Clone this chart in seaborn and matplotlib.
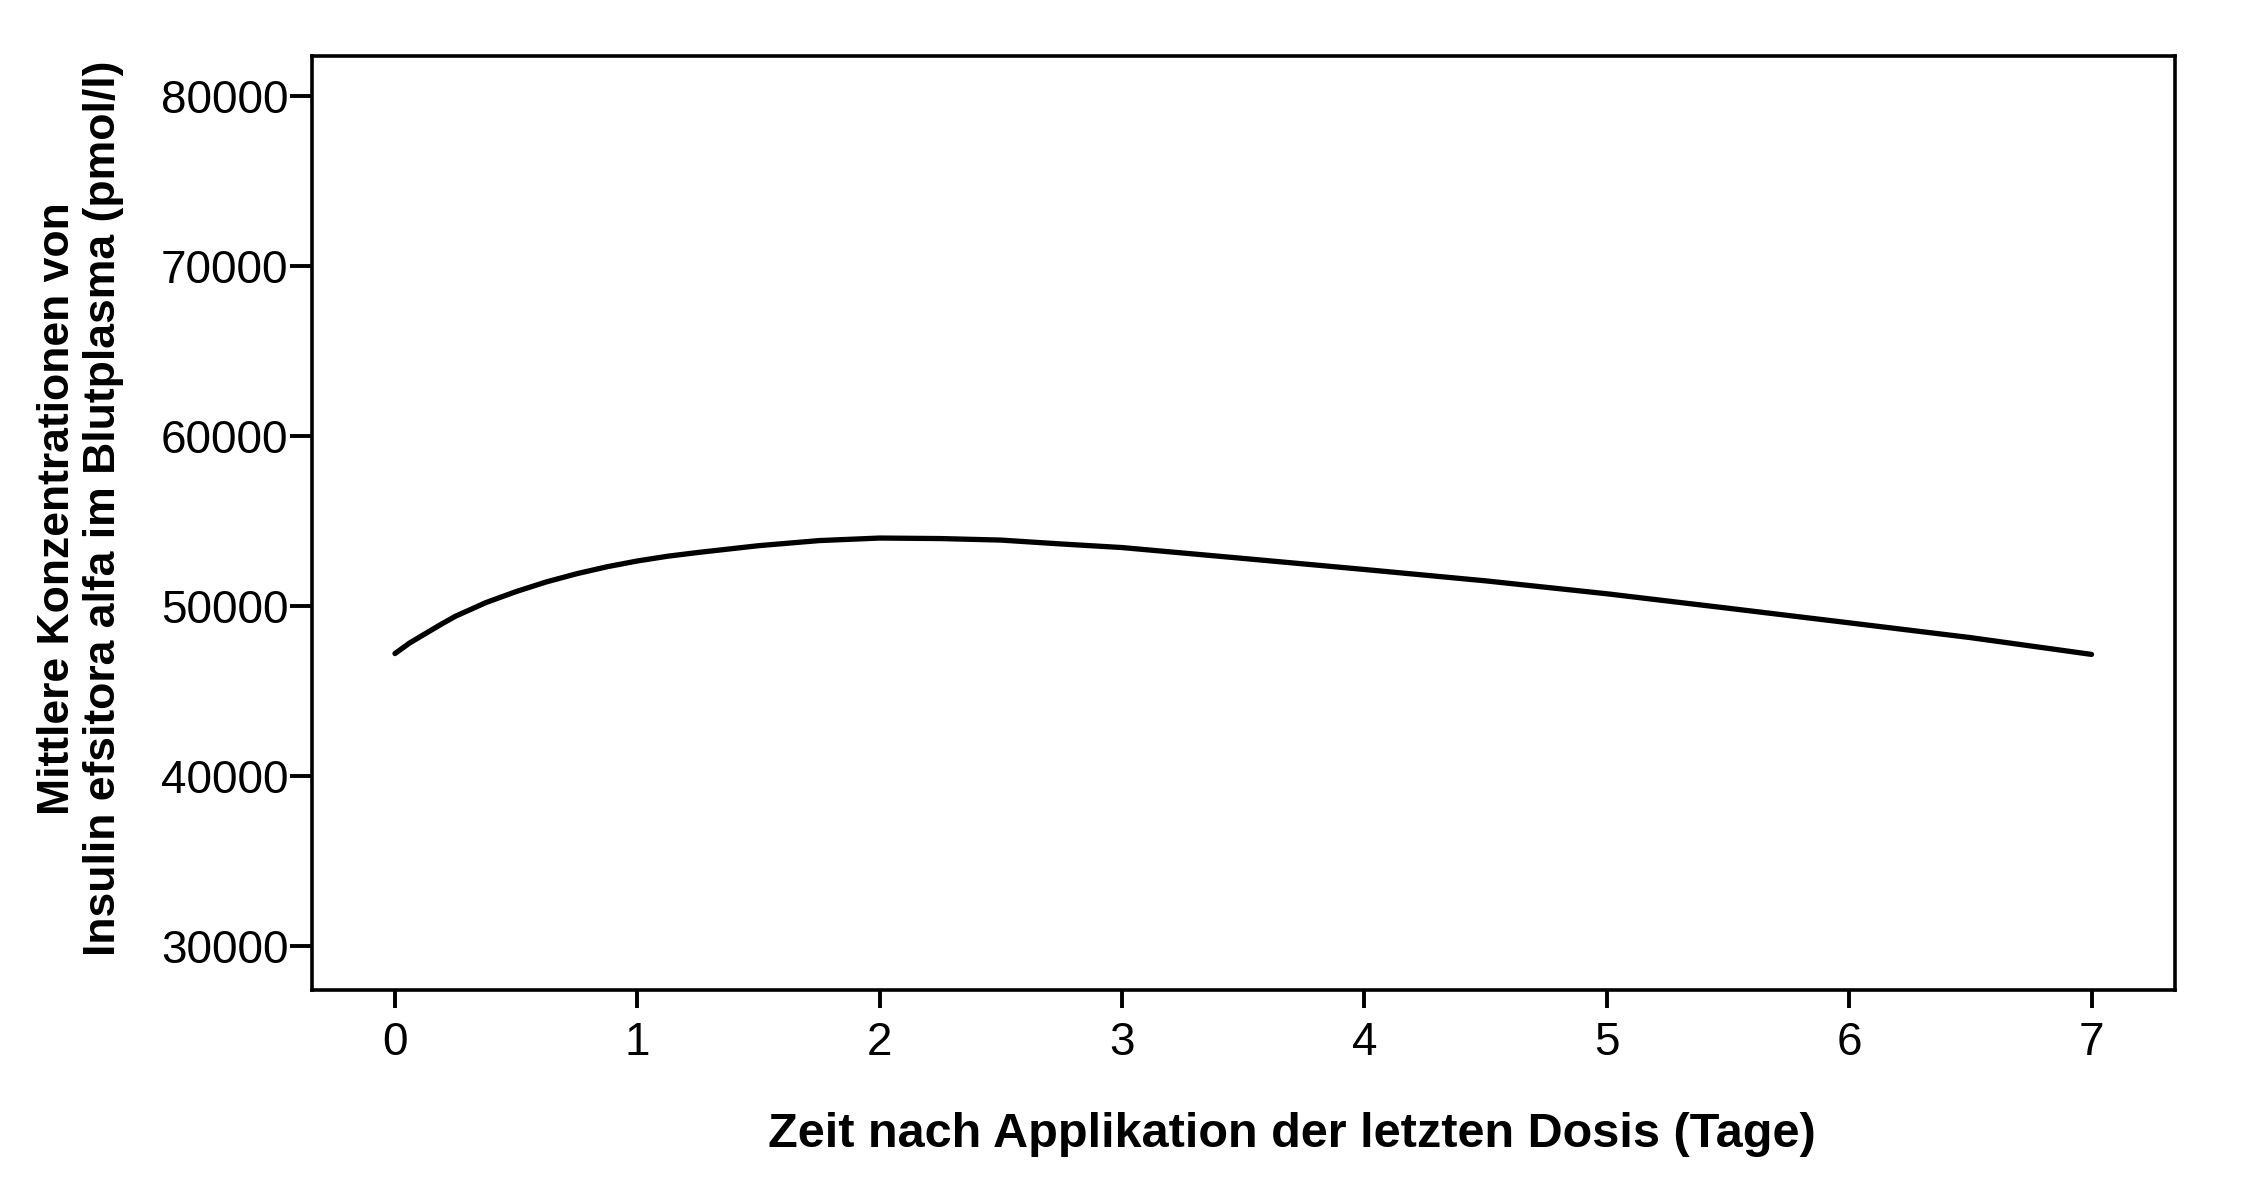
import numpy as np
import pandas as pd
import matplotlib
matplotlib.use("Agg")
import matplotlib.pyplot as plt
import seaborn as sns

# mean plasma concentration (pmol/l) over one dosing week
tage = [0.0, 0.06, 0.125, 0.19, 0.25, 0.375, 0.5, 0.625, 0.75, 0.875, 1.0,
        1.125, 1.25, 1.5, 1.75, 2.0, 2.25, 2.5, 2.75, 3.0, 3.5, 4.0, 4.5,
        5.0, 5.5, 6.0, 6.5, 7.0]
konz = [47200, 47820, 48370, 48920, 49400, 50200, 50850, 51420, 51900, 52310,
        52650, 52930, 53150, 53550, 53850, 54000, 53970, 53880, 53650, 53440,
        52800, 52150, 51480, 50720, 49870, 49010, 48140, 47150]

x_ticks = [0, 1, 2, 3, 4, 5, 6, 7]
y_ticks = [30000, 40000, 50000, 60000, 70000, 80000]

x_label = "Zeit nach Applikation der letzten Dosis (Tage)"
y_label = "Mittlere Konzentrationen von\nInsulin efsitora alfa im Blutplasma (pmol/l)"


def main():
    sns.set_style("ticks")
    plt.rcParams["font.family"] = ["Liberation Sans", "DejaVu Sans"]
    plt.rcParams["text.color"] = "black"
    plt.rcParams["axes.labelcolor"] = "black"

    df = pd.DataFrame({"Tage": tage, "Konz": konz})

    fig = plt.figure(figsize=(22.42, 11.92), dpi=100)
    ax = fig.add_axes([0.1392, 0.1695, 0.9703 - 0.1392, 0.9534 - 0.1695])

    sns.lineplot(data=df, x="Tage", y="Konz", color="black", linewidth=3.8,
                 solid_joinstyle="round", ax=ax)

    ax.set_xlim(-0.342, 7.346)
    ax.set_ylim(27400, 82400)
    ax.set_xticks(x_ticks)
    ax.set_yticks(y_ticks)
    ax.set_xticklabels([str(t) for t in x_ticks])
    ax.set_yticklabels([str(t) for t in y_ticks])

    for side in ["top", "right", "left", "bottom"]:
        ax.spines[side].set_visible(True)
        ax.spines[side].set_linewidth(2.6)
        ax.spines[side].set_color("black")

    ax.tick_params(axis="y", length=16, width=2.8, pad=1, labelsize=33,
                   colors="black", labelcolor="black")
    ax.tick_params(axis="x", length=13, width=2.8, pad=9, labelsize=33,
                   colors="black", labelcolor="black")

    ax.set_xlabel(x_label, fontsize=35, fontweight="bold", color="black")
    ax.set_ylabel(y_label, fontsize=32, fontweight="bold", linespacing=1.15,
                  color="black")
    ax.xaxis.set_label_coords(0.526, -0.131)
    ax.yaxis.set_label_coords(-0.101, 0.515)

    fig.savefig("out.png", dpi=100, facecolor="white")
    plt.close(fig)


if __name__ == "__main__":
    main()
